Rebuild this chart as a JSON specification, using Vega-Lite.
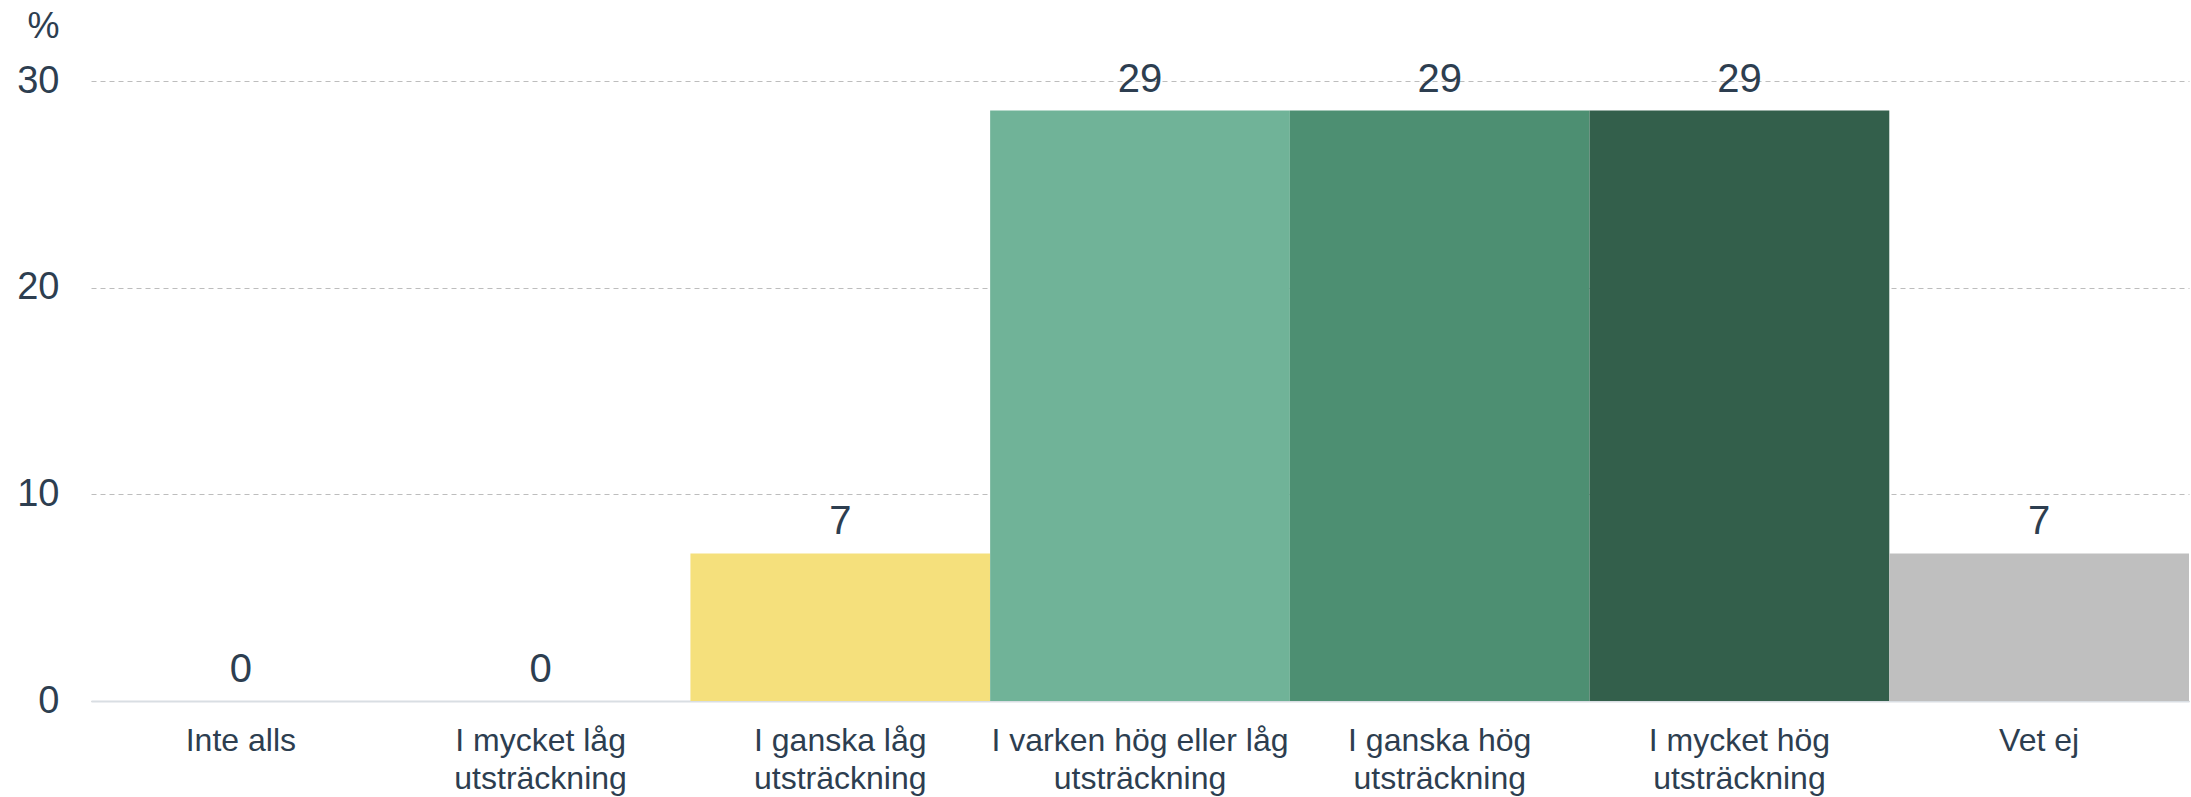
{
  "$schema": "https://vega.github.io/schema/vega-lite/v6.json",
  "width": 2098,
  "height": 620,
  "autosize": {"type": "none"},
  "padding": {"left": 91, "top": 81, "right": 2, "bottom": 96},
  "background": "white",
  "config": {
    "view": {"stroke": null},
    "font": "Liberation Sans",
    "text": {"font": "Liberation Sans"}
  },
  "data": {
    "values": [
      {"kategori": "Inte alls", "procent": 0, "etikett": "0", "farg": "#f5e07c"},
      {"kategori": "I mycket låg utsträckning", "procent": 0, "etikett": "0", "farg": "#f5e07c"},
      {"kategori": "I ganska låg utsträckning", "procent": 7.14, "etikett": "7", "farg": "#f5e07c"},
      {"kategori": "I varken hög eller låg utsträckning", "procent": 28.57, "etikett": "29", "farg": "#70b398"},
      {"kategori": "I ganska hög utsträckning", "procent": 28.57, "etikett": "29", "farg": "#4d8f72"},
      {"kategori": "I mycket hög utsträckning", "procent": 28.57, "etikett": "29", "farg": "#335f4b"},
      {"kategori": "Vet ej", "procent": 7.14, "etikett": "7", "farg": "#bfbfbf"}
    ]
  },
  "encoding": {
    "x": {
      "field": "kategori",
      "type": "nominal",
      "sort": null,
      "scale": {"paddingInner": 0, "paddingOuter": 0},
      "axis": {
        "title": null,
        "labelAngle": 0,
        "labelFont": "Liberation Sans",
        "labelFontSize": 32,
        "labelColor": "#2d3e50",
        "labelPadding": 24,
        "labelLineHeight": 38,
        "labelBaseline": "top",
        "labelLimit": 400,
        "labelExpr": "indexof(datum.label, ' utsträckning') > 0 ? [replace(datum.label, ' utsträckning', ''), 'utsträckning'] : datum.label",
        "ticks": false,
        "domain": true,
        "domainColor": "#d9dee3",
        "domainWidth": 2,
        "grid": false
      }
    }
  },
  "layer": [
    {
      "mark": {"type": "bar"},
      "encoding": {
        "y": {
          "field": "procent",
          "type": "quantitative",
          "scale": {"domain": [0, 30], "nice": false},
          "axis": {
            "title": "%",
            "titleAngle": 0,
            "titleFont": "Liberation Sans",
            "titleFontSize": 36,
            "titleFontWeight": "normal",
            "titleColor": "#2d3e50",
            "titleAlign": "left",
            "titleBaseline": "alphabetic",
            "titleX": -64,
            "titleY": -44,
            "values": [0, 10, 20, 30],
            "labelFont": "Liberation Sans",
            "labelFontSize": 38,
            "labelColor": "#2d3e50",
            "labelPadding": 32,
            "ticks": false,
            "domain": false,
            "grid": true,
            "gridColor": "#bdbdbd",
            "gridDash": [5, 4],
            "gridWidth": 1
          }
        },
        "color": {"field": "farg", "type": "nominal", "scale": null, "legend": null}
      }
    },
    {
      "mark": {
        "type": "text",
        "font": "Liberation Sans",
        "fontSize": 40,
        "fontWeight": "normal",
        "color": "#2d3e50",
        "baseline": "alphabetic",
        "dy": -19
      },
      "encoding": {
        "y": {"field": "procent", "type": "quantitative"},
        "text": {"field": "etikett", "type": "nominal"}
      }
    }
  ]
}
